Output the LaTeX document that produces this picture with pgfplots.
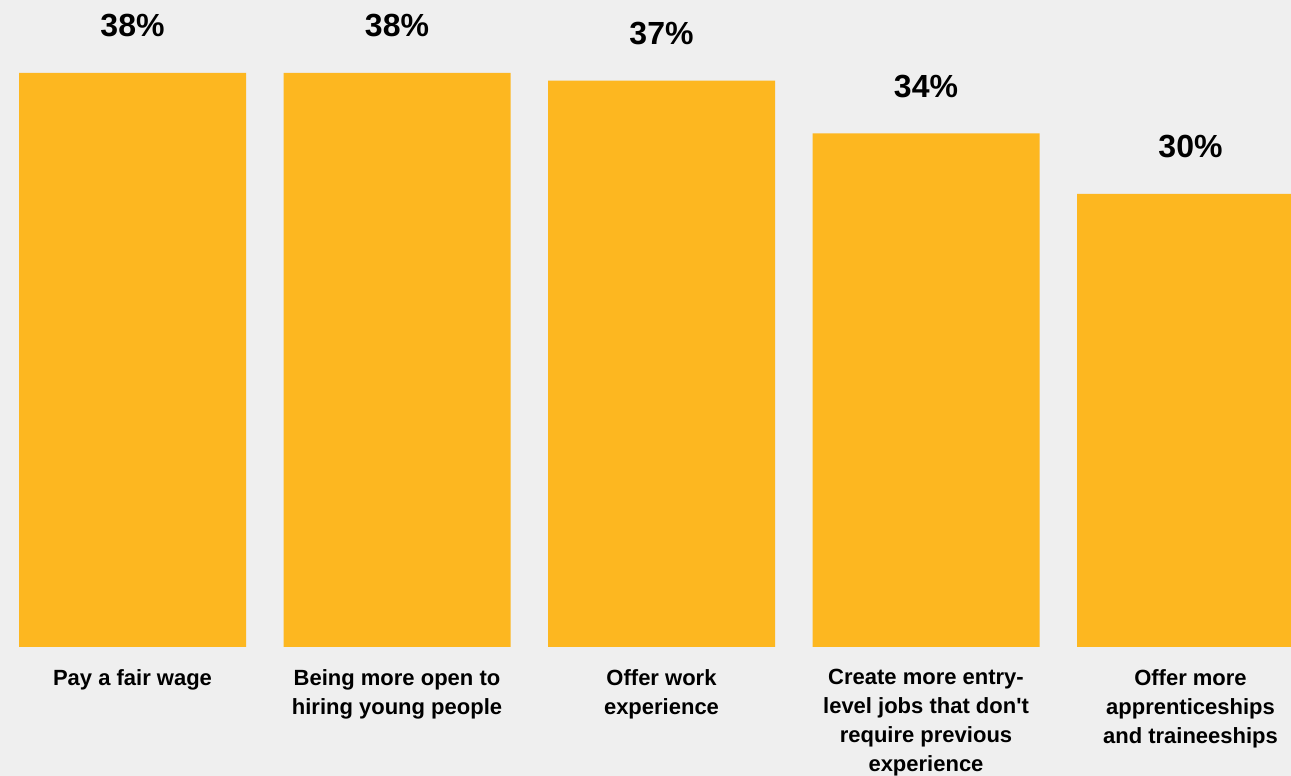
\documentclass[border=0pt]{standalone}
\usepackage{pgfplots}
\pgfplotsset{compat=1.18}
\usepackage{fontspec}
\setmainfont{Liberation Sans}[Ligatures=TeXOff]
\definecolor{barc}{RGB}{253,183,32}
\definecolor{bgc}{RGB}{239,239,239}
\begin{document}
\begin{tikzpicture}
\fill[bgc] (0,0) rectangle (1291pt,776pt);
\begin{axis}[
  at={(0pt,129pt)}, anchor=south west,
  scale only axis, width=1291pt, height=647pt,
  xmin=-0.501, xmax=4.380, ymin=0, ymax=42.83,
  axis line style={draw=none},
  major tick length=0pt,
  ytick=\empty,
  xtick={0,1,2,3,4},
  xticklabels={Pay a fair wage, {Being more open to\\hiring young people}, {Offer work\\experience}, {Create more entry-\\level jobs that don't\\require previous\\experience}, {Offer more\\apprenticeships\\and traineeships}},
  xticklabel style={align=center, inner sep=0pt, anchor=north, yshift=-22pt, font=\fontsize{22pt}{29pt}\selectfont\bfseries},
  ybar, bar width=227pt,
  point meta=explicit,
  nodes near coords={\pgfmathprintnumber[assume math mode=true]{\pgfplotspointmeta}\%},
  every node near coord/.append style={anchor=center, yshift=47pt, font=\fontsize{32pt}{38pt}\selectfont\bfseries, text=black},
]
\addplot[fill=barc, draw=none] coordinates {
  (0,38) [38]
  (1,38) [38]
  (2,37.5) [37]
  (3,34) [34]
  (4,30) [30]
};
\end{axis}
\pgfresetboundingbox
\useasboundingbox (0,0) rectangle (1291pt,776pt);
\end{tikzpicture}
\end{document}
